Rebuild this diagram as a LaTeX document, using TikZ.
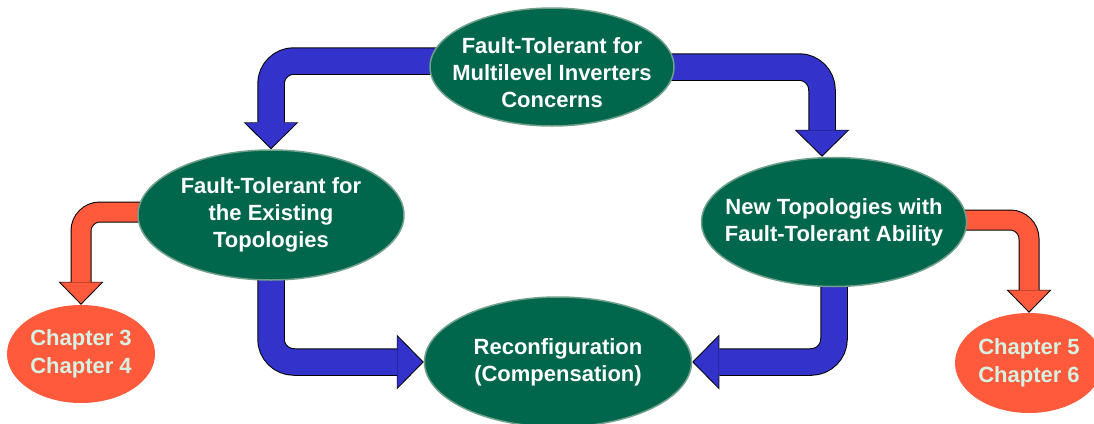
\documentclass[tikz,border=0pt]{standalone}
\usepackage{fontspec}
\setmainfont{Liberation Sans}
\usetikzlibrary{shapes.geometric,arrows.meta,backgrounds}

\definecolor{ovalgreen}{RGB}{0,102,76}
\definecolor{rimgreen}{RGB}{112,160,138}
\definecolor{flowblue}{RGB}{51,51,204}
\definecolor{chapred}{RGB}{255,90,60}
\definecolor{chaptext}{RGB}{214,242,226}

\tikzset{
  topic/.style={ellipse, fill=ovalgreen, draw=rimgreen, line width=1.5pt,
    inner xsep=-60pt, inner ysep=-30pt,
    align=center, text=white, font=\fontsize{22}{27}\selectfont\bfseries},
  chapter/.style={ellipse, fill=chapred, inner xsep=-30pt, inner ysep=-20pt,
    align=center, text=chaptext, font=\fontsize{22}{28}\selectfont\bfseries},
  blue rim/.style={draw=black, line width=27.5pt, rounded corners=23pt,
    -{Triangle[length=27pt,width=55pt,line width=0pt]}},
  blue body/.style={draw=flowblue, line width=25.5pt, rounded corners=23pt, shorten >=1.4pt,
    -{Triangle[length=25pt,width=51pt,line width=0pt]}},
  red rim/.style={draw=black, line width=21pt, rounded corners=19pt,
    -{Triangle[length=23pt,width=45pt,line width=0pt]}},
  red body/.style={draw=chapred, line width=19pt, rounded corners=19pt, shorten >=1.4pt,
    -{Triangle[length=21pt,width=41pt,line width=0pt]}}
}

% a fat arrow: outline pass, then fill pass
\newcommand{\fatarrow}[2]{%
  \draw[#1 rim] #2;
  \draw[#1 body] #2;}

\begin{document}
\begin{tikzpicture}[x=1pt,y=-1pt]
	\useasboundingbox (0,0) rectangle (1094,423);
	
	\node[topic, minimum width=244pt, minimum height=118pt] (top) at (552,67) {\rule{0pt}{28pt}Fault-Tolerant for\\Multilevel Inverters\\Concerns};
	\node[topic, minimum width=266pt, minimum height=130pt] (left) at (271,215) {Fault-Tolerant for\\the Existing\\Topologies};
	\node[topic, minimum width=265pt, minimum height=129pt] (right) at (834,222) {New Topologies with\\Fault-Tolerant Ability};
	\node[topic, minimum width=267pt, minimum height=130pt] (bottom) at (558,362) {Reconfiguration\\(Compensation)};
	\node[chapter, minimum width=148pt, minimum height=98pt] (ch34) at (81,354) {Chapter 3\\Chapter 4};
	\node[chapter, minimum width=148pt, minimum height=100pt] (ch56) at (1029,363) {Chapter 5\\Chapter 6};
	
	\begin{pgfonlayer}{background}
	\fatarrow{blue}{([yshift=6pt]top.center) -| (left.north)}
	\fatarrow{blue}{(top.center) -| ([xshift=-12pt]right.north)}
	\fatarrow{blue}{(left.center) |- (bottom.west)}
	\fatarrow{blue}{(right.center) |- (bottom.east)}
	\fatarrow{red}{([yshift=3pt]left.center) -| (ch34.north)}
	\fatarrow{red}{([yshift=2pt]right.center) -| (ch56.north)}
	\end{pgfonlayer}
\end{tikzpicture}
\end{document}
